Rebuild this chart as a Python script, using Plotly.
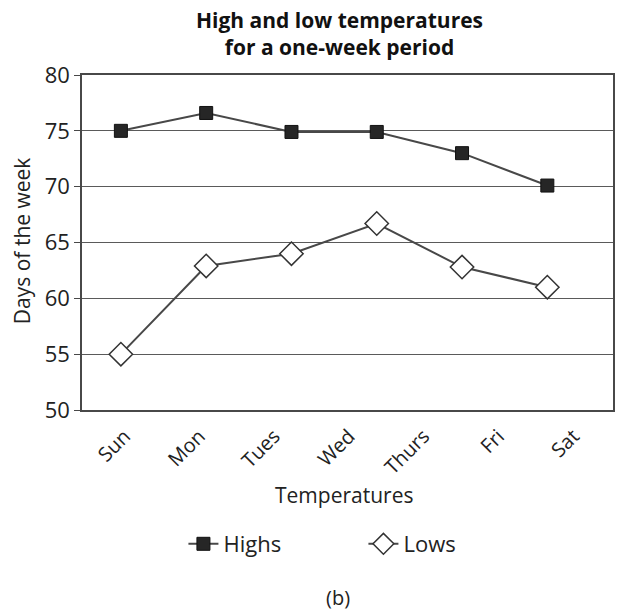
import plotly.graph_objects as go

days = ["Sun", "Mon", "Tues", "Wed", "Thurs", "Fri", "Sat"]
highs = [75.0, 76.6, 74.9, 74.9, 73.0, 70.1]
lows = [55.0, 62.9, 64.0, 66.7, 62.8, 61.0]
point_index = list(range(len(highs)))
y_ticks = [50, 55, 60, 65, 70, 75, 80]

FONT = "Open Sans, DejaVu Sans, sans-serif"
INK = "#222222"
LINE = "#484848"

fig = go.Figure()
fig.add_trace(go.Scatter(
    x=point_index, y=highs, name="Highs", mode="lines+markers",
    xaxis="x2", yaxis="y",
    line=dict(color=LINE, width=2),
    marker=dict(symbol="square", size=13, color="#262626",
                line=dict(color="#111111", width=1)),
))
fig.add_trace(go.Scatter(
    x=point_index, y=lows, name="Lows", mode="lines+markers",
    xaxis="x2", yaxis="y",
    line=dict(color=LINE, width=2),
    marker=dict(symbol="diamond", size=18, color="white",
                line=dict(color="#333333", width=1.5)),
))
# invisible helper so the labelled day axis is drawn
fig.add_trace(go.Scatter(x=list(range(len(days))), y=[None] * len(days),
                         xaxis="x", yaxis="y", mode="markers",
                         showlegend=False, hoverinfo="skip"))

fig.update_layout(
    width=626, height=615,
    margin=dict(l=82, r=11, t=75, b=205),
    paper_bgcolor="white", plot_bgcolor="white",
    font=dict(family=FONT, color=INK),
    xaxis=dict(range=[-0.57, 6.53], tickmode="array",
               tickvals=list(range(len(days))), ticktext=days,
               tickangle=-45, tickfont=dict(size=20, color=INK),
               showgrid=False, zeroline=False, ticks="outside", ticklen=5,
               tickcolor="rgba(0,0,0,0)",
               showline=True, linecolor=LINE, linewidth=1.5, mirror=True),
    xaxis2=dict(range=[-0.456, 5.77], overlaying="x", visible=False,
                showgrid=False, zeroline=False),
    yaxis=dict(range=[50, 80], tickmode="array", tickvals=y_ticks,
               tickfont=dict(size=22, color=INK),
               showgrid=True, gridcolor="#5a5a5a", gridwidth=1,
               zeroline=False, ticks="outside", ticklen=6, tickcolor=LINE,
               showline=True, linecolor=LINE, linewidth=1.5, mirror=True),
    legend=dict(orientation="h", x=0.53, xanchor="center", y=-0.40,
                yanchor="middle", font=dict(size=22, color=INK),
                entrywidth=135, bgcolor="rgba(0,0,0,0)",
                tracegroupgap=0),
    showlegend=True,
    annotations=[
        dict(text="<b>High and low temperatures<br>for a one-week period</b>",
             xref="paper", yref="paper", x=0.485, y=1.0 + 42 / 335.0,
             showarrow=False, font=dict(size=21, color="#111111"),
             xanchor="center", yanchor="middle", align="center"),
        dict(text="Temperatures", xref="paper", yref="paper", x=0.493,
             y=-0.254, showarrow=False, font=dict(size=21, color=INK),
             xanchor="center", yanchor="middle"),
        dict(text="Days of the week", xref="paper", yref="paper", x=-0.113,
             y=0.507, showarrow=False, textangle=-90,
             font=dict(size=21, color=INK), xanchor="center", yanchor="middle"),
        dict(text="(b)", xref="paper", yref="paper", x=0.483, y=-0.561,
             showarrow=False, font=dict(size=20, color=INK),
             xanchor="center", yanchor="middle"),
    ],
)

fig.write_html("out.html")
